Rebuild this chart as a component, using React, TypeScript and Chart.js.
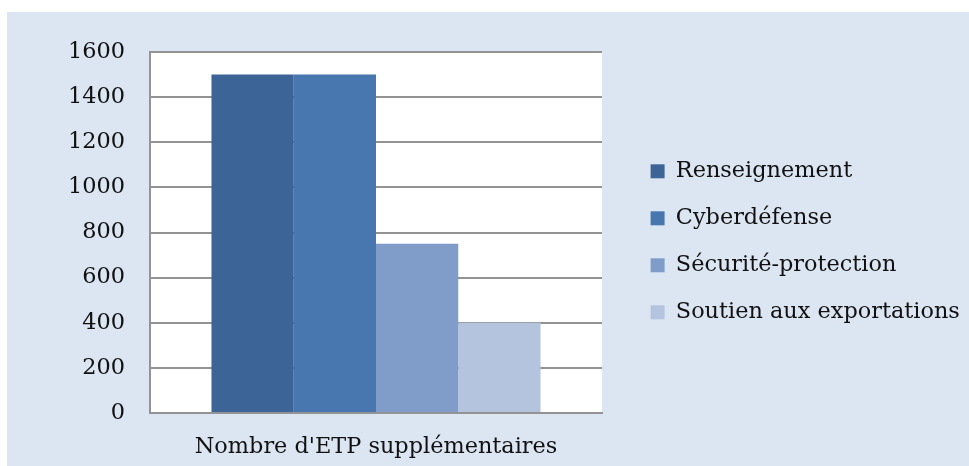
import React, { useEffect, useRef } from 'react';
import { Chart, registerables } from 'chart.js';

Chart.register(...registerables);

const categories = ["Nombre d'ETP supplémentaires"];
const seriesNames = ['Renseignement', 'Cyberdéfense', 'Sécurité-protection', 'Soutien aux exportations'];
const seriesValues = [1500, 1500, 750, 400];
const seriesColors = ['#3c6496', '#4877b0', '#7f9dc8', '#b4c3de'];
const yMin = 0;
const yMax = 1600;
const yStep = 200;

const FONT = '"DejaVu Serif", serif';
const FONT_SIZE = 22.4;
const GRID = '#939393';
const TEXT = '#111111';

export default function App() {
  const ref = useRef<HTMLCanvasElement>(null);

  useEffect(() => {
    if (!ref.current) return;
    const plotBg = {
      id: 'plotBg',
      beforeDraw(chart: any) {
        const { ctx, chartArea: a } = chart;
        ctx.save();
        ctx.fillStyle = '#ffffff';
        ctx.fillRect(a.left, a.top, a.right - a.left, a.bottom - a.top);
        ctx.restore();
      },
    };
    const legendWidth = {
      id: 'legendWidth',
      beforeLayout(chart: any) {
        const lg = chart.legend;
        if (lg && !lg._patchedFit) {
          const orig = lg.fit.bind(lg);
          lg.fit = () => {
            orig();
            lg.width = 343;
          };
          lg._patchedFit = true;
        }
      },
    };
    const chart = new Chart(ref.current, {
      type: 'bar',
      data: {
        labels: categories,
        datasets: seriesNames.map((name, i) => ({
          label: name,
          data: [seriesValues[i]],
          backgroundColor: seriesColors[i],
          borderWidth: 0,
          categoryPercentage: 0.728,
          barPercentage: 1,
        })),
      },
      options: {
        animation: false,
        responsive: true,
        maintainAspectRatio: false,
        layout: { padding: { left: 0, top: 40, right: 0, bottom: 0 } },
        plugins: {
          legend: {
            position: 'right',
            align: 'start',
            maxWidth: 400,
            title: { display: true, text: ' ', padding: { top: 71.5, bottom: 0 }, font: { size: 10 } },
            labels: {
              boxWidth: 14,
              boxHeight: 14,
              padding: 47 - FONT_SIZE,
              color: TEXT,
              font: { family: FONT, size: FONT_SIZE },
            },
          },
          tooltip: { enabled: false },
        },
        scales: {
          x: {
            grid: { display: false },
            border: { display: true, color: GRID, width: 2 },
            ticks: { color: TEXT, font: { family: FONT, size: FONT_SIZE }, padding: 13 },
            afterFit: (s: any) => {
              s.height = 53;
            },
          },
          y: {
            min: yMin,
            max: yMax,
            ticks: {
              stepSize: yStep,
              padding: 25,
              color: TEXT,
              font: { family: FONT, size: FONT_SIZE },
              callback: (v: any) => String(v),
            },
            grid: { color: GRID, lineWidth: 2, drawTicks: false },
            border: { display: true, color: GRID, width: 2 },
            afterFit: (s: any) => {
              s.width = 143;
            },
          },
          y2: {
            type: 'linear',
            position: 'right',
            display: true,
            ticks: { display: false },
            grid: { display: false, drawTicks: false },
            border: { display: false },
            afterFit: (s: any) => {
              s.width = 24;
            },
          },
        },
      } as any,
      plugins: [plotBg, legendWidth],
    });
    return () => chart.destroy();
  }, []);

  return (
    <div
      style={{
        position: 'absolute',
        left: 7,
        top: 12,
        width: 962,
        height: 454,
        background: '#dce6f2',
      }}
    >
      <canvas ref={ref} style={{ display: 'block' }} />
    </div>
  );
}
